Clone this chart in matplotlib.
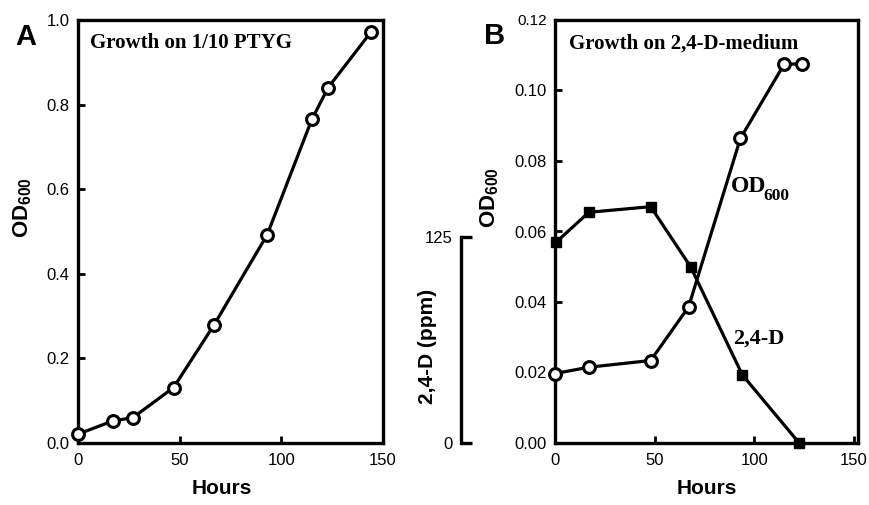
import matplotlib
matplotlib.use("Agg")
import matplotlib.pyplot as plt

plt.rcParams['font.family'] = ['Liberation Sans', 'DejaVu Sans']
plt.rcParams['mathtext.fontset'] = 'custom'
plt.rcParams['mathtext.bf'] = 'Liberation Sans:bold'
plt.rcParams['mathtext.rm'] = 'Liberation Sans'

# Panel A: growth on 1/10 PTYG
hours_a = [0, 17, 27, 47, 67, 93, 115, 123, 144]
od_a = [0.021, 0.052, 0.060, 0.131, 0.280, 0.492, 0.765, 0.840, 0.971]

# Panel B: growth on 2,4-D medium
hours_b_od = [0, 17, 48, 67, 93, 115, 124]
od_b = [0.0197, 0.0215, 0.0234, 0.0386, 0.0864, 0.1075, 0.1075]
hours_b_d = [0.5, 17, 48, 68, 94, 122.5]
d_ppm = [121.8, 140, 143.4, 107, 41.3, 0]

xticks = [0, 50, 100, 150]
yticks_a = [0.0, 0.2, 0.4, 0.6, 0.8, 1.0]
yticks_b = [0.00, 0.02, 0.04, 0.06, 0.08, 0.10, 0.12]

LW = 2.3
serif = ['Liberation Serif', 'DejaVu Serif']

fig = plt.figure(figsize=(8.69, 5.05), dpi=100)
axA = fig.add_axes([78/869, 1-443/505, 305/869, 423/505])
axB = fig.add_axes([555/869, 1-443/505, 303/869, 423/505])


def style(ax):
    for s in ax.spines.values():
        s.set_linewidth(2.4)
    ax.tick_params(direction='in', length=5, width=2, labelsize=12,
                   top=False, right=False)
    ax.tick_params(axis='y', pad=6)
    ax.tick_params(axis='x', pad=7)


# A
axA.plot(hours_a, od_a, '-o', color='black', lw=LW, ms=8.5, mew=2.2,
         mfc='white', mec='black', clip_on=False, zorder=3)
axA.set_xlim(0, 150)
axA.set_ylim(0, 1.0)
axA.set_xticks(xticks)
axA.set_yticks(yticks_a)
axA.set_yticklabels(['%.1f' % v for v in yticks_a])
style(axA)
axA.set_xlabel('Hours', fontsize=15, fontweight='bold')
axA.xaxis.set_label_coords(0.47, -0.085)
axA.set_ylabel(r'$\mathbf{OD}_{\mathbf{600}}$', fontsize=16)
axA.yaxis.set_label_coords(-0.144, 0.556)
axA.text(0.04, 0.945, 'Growth on 1/10 PTYG', transform=axA.transAxes,
         family=serif, fontweight='bold', fontsize=15, va='center')
fig.text(15/869, 1-37/505, 'A', fontsize=21, fontweight='bold', va='center')

# B
axB.plot(hours_b_od, od_b, '-o', color='black', lw=LW, ms=8.5, mew=2.2,
         mfc='white', mec='black', clip_on=False, zorder=4)
axB.set_xlim(0, 152)
axB.set_ylim(0, 0.12)
axB.set_xticks(xticks)
axB.set_yticks(yticks_b)
axB.set_yticklabels(['%.2f' % v for v in yticks_b])
style(axB)
axB.get_yticklabels()[-1].set_fontsize(11)
axB.set_xlabel('Hours', fontsize=15, fontweight='bold')
axB.xaxis.set_label_coords(0.5, -0.085)
axB.set_ylabel(r'$\mathbf{OD}_{\mathbf{600}}$', fontsize=16)
axB.yaxis.set_label_coords(-0.178, 0.58)
axB.text(0.045, 0.945, 'Growth on 2,4-D-medium', transform=axB.transAxes,
         family=serif, fontweight='bold', fontsize=15, va='center')
fig.text(484/869, 1-36/505, 'B', fontsize=21, fontweight='bold', va='center')

# series labels inside B
axB.text(88, 0.0727, 'OD', family=serif, fontweight='bold', fontsize=17,
         va='center')
axB.annotate('600', xy=(104.5, 0.0727), xytext=(0, -7), textcoords='offset points',
             family=serif, fontweight='bold', fontsize=12.5, va='center')
axB.text(89.5, 0.0295, '2,4-D', family=serif, fontweight='bold', fontsize=16,
         va='center')

# 2,4-D secondary axis drawn as a bracket to the left
ax2 = axB.twinx()
ax2.plot(hours_b_d, d_ppm, '-s', color='black', lw=LW, ms=7, clip_on=False,
         zorder=5)
ax2.set_ylim(0, 125 * 423 / 206)
for k in ['top', 'right', 'bottom']:
    ax2.spines[k].set_visible(False)
ax2.spines['left'].set_visible(True)
ax2.spines['left'].set_position(('outward', 94 * 0.72))
ax2.spines['left'].set_bounds(0, 125)
ax2.spines['left'].set_linewidth(2.4)
ax2.yaxis.set_ticks_position('left')
ax2.yaxis.set_label_position('left')
ax2.set_yticks([0, 125])
ax2.tick_params(axis='y', direction='in', length=8, width=2.4, labelsize=12,
                pad=6, right=False)
ax2.set_ylabel('2,4-D (ppm)', fontsize=15, fontweight='bold')
ax2.yaxis.set_label_coords(-0.389, 0.229)

fig.savefig('out.png', dpi=100)
